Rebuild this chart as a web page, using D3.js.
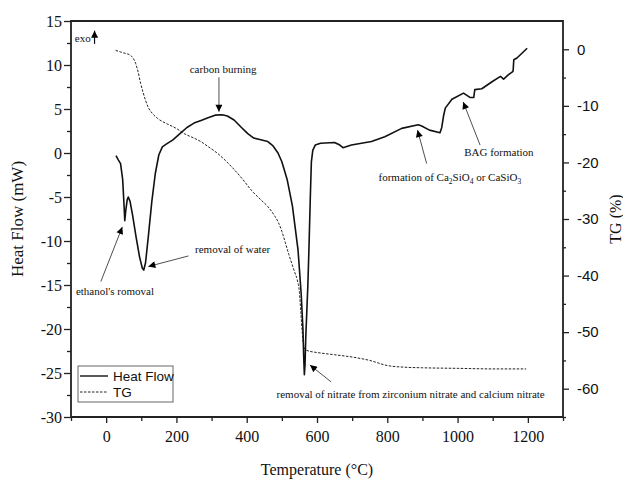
<!DOCTYPE html>
<html><head><meta charset="utf-8">
<script src="https://cdn.jsdelivr.net/npm/d3@7"></script>
<style>body{margin:0;background:#fff}svg{display:block}</style>
</head><body>
<svg id="c" width="623" height="480"></svg>
<script>
// ---- data ----
const hfTemp = [28,35,41,47,51,53,56,60,63,68,75,85,95,103,107,112,120,130,140,150,160,171,190,210,230,250,270,290,310,330,345,364,385,403,420,440,460,475,489,500,515,530,546,555,560,562,564,566,568,571,574,577,581,584,588,595,610,650,665,674,698,755,793,841,888,898,920,950,955,960,965,984,1017,1036,1046,1049,1069,1098,1122,1131,1145,1155,1158,1160,1169,1198];
const heatFlow = [-0.3,-0.8,-1.2,-3,-6,-7.7,-6.5,-5.3,-5.0,-5.5,-7.0,-9.5,-11.8,-13.1,-13.3,-12.5,-9.5,-5.5,-2.3,-0.2,0.7,1.0,1.5,2.2,2.9,3.4,3.7,4.0,4.3,4.35,4.2,3.75,2.9,2.2,1.7,1.5,1.3,0.8,0,-1.0,-3.0,-6,-11,-16,-20,-23,-25.2,-24,-21,-18,-15,-11,-5,-1,0.3,0.9,1.1,1.2,0.9,0.6,0.9,1.3,1.85,2.8,3.2,3.07,2.6,2.3,2.9,4.2,5.1,6.1,6.8,6.3,6.3,7.2,7.3,8.1,8.7,8.4,8.9,9.2,9.3,10.6,10.8,11.9];
const tgTemp = [27,40,50,60,69,76,84,91,98,105,112,120,131,146,174,200,222,250,269,290,317,340,365,390,413,440,460,480,490,500,510,520,529,537,544,550,554,558,562,564,567,570,580,600,650,700,750,800,850,900,1000,1100,1195];
const tgValues = [-0.2,-0.45,-0.65,-0.8,-1.06,-1.5,-2.5,-4.0,-6.0,-7.6,-9.0,-10.3,-11.3,-12.2,-13.2,-14.0,-14.9,-15.7,-16.3,-17.2,-18.4,-19.7,-21.3,-23.1,-24.9,-26.6,-27.8,-29.5,-30.6,-32.2,-34.2,-36.3,-38,-39.5,-40.8,-43,-46.5,-50,-52.3,-52.8,-53.1,-53.2,-53.4,-53.6,-54.0,-54.4,-55.0,-55.9,-56.2,-56.3,-56.4,-56.5,-56.5];
const xTicks = [0,200,400,600,800,1000,1200];
const hfTicks = [15,10,5,0,-5,-10,-15,-20,-25,-30];
const tgTicks = [0,-10,-20,-30,-40,-50,-60];
const seriesNames = ["Heat Flow","TG"];
// annotations in data units (T, heat flow)
const notes = [
  {text:"carbon burning", tx:333, ty:9.1, anchor:"middle", ax1:321, ay1:8.6, ax2:321, ay2:4.7},
  {text:"ethanol's romoval", tx:-86, ty:-16.1, anchor:"start", ax1:-15, ay1:-14.6, ax2:46, ay2:-8.4},
  {text:"removal of water", tx:253, ty:-11.4, anchor:"start", ax1:234, ay1:-11.7, ax2:120, ay2:-12.9},
  {text:"removal of nitrate from zirconium nitrate and calcium nitrate", tx:485, ty:-27.8, anchor:"start", ax1:640, ay1:-26, ax2:580, ay2:-24.1},
  {text:"formation", tx:775, ty:-3.2, anchor:"start", ax1:912, ay1:-1.2, ax2:886, ay2:2.6},
  {text:"BAG formation", tx:1019, ty:-0.3, anchor:"start", ax1:1064, ay1:0.9, ax2:1016, ay2:5.8}
];

const svg = d3.select("#c");
const L=71,R=563,T=21,B=417;
const x = d3.scaleLinear([-100,1300],[L,R]);
const yL = d3.scaleLinear([-30,15],[B,T]);
const yR = d3.scaleLinear([-65,5],[B,T]);
const serif = "'Liberation Serif','Times New Roman',Times,serif";
const sans = "'Liberation Sans',Arial,Helvetica,sans-serif";

const defs = svg.append("defs");
defs.append("marker").attr("id","ah").attr("viewBox","0 0 10 10").attr("refX",10).attr("refY",5)
  .attr("markerWidth",9).attr("markerHeight",7).attr("markerUnits","userSpaceOnUse").attr("orient","auto")
  .append("path").attr("d","M0,0L10,5L0,10Z").attr("fill","#000");

// axes
function styleAxis(g, font, size){
  g.attr("font-family",null).attr("font-size",null);
  g.select(".domain").remove();
  g.selectAll("text").style("font-family",font).style("font-size",size+"px").attr("fill","#111");
  g.selectAll("line").attr("stroke","#222").attr("stroke-width",1.3);
}
const gx = svg.append("g").attr("transform",`translate(0,${B})`)
  .call(d3.axisBottom(x).tickValues(xTicks).tickSize(6).tickPadding(8).tickFormat(d=>String(d)));
styleAxis(gx, serif, 16);
svg.append("g").attr("transform",`translate(0,${B})`)
  .call(d3.axisBottom(x).tickValues(d3.range(-100,1301,200)).tickSize(4).tickFormat(""))
  .call(g=>styleAxis(g,serif,16));
const gl = svg.append("g").attr("transform",`translate(${L},0)`)
  .call(d3.axisLeft(yL).tickValues(hfTicks).tickSize(7).tickPadding(2).tickFormat(d=>String(d)));
styleAxis(gl, serif, 16);
svg.append("g").attr("transform",`translate(${L},0)`)
  .call(d3.axisLeft(yL).tickValues(d3.range(-27.5,15,5)).tickSize(4).tickFormat(""))
  .call(g=>styleAxis(g,serif,16));
const gr = svg.append("g").attr("transform",`translate(${R},0)`)
  .call(d3.axisRight(yR).tickValues(tgTicks).tickSize(6).tickPadding(8).tickFormat(d=>String(d)));
styleAxis(gr, sans, 15);
svg.append("g").attr("transform",`translate(${R},0)`)
  .call(d3.axisRight(yR).tickValues(d3.range(-65,5,10)).tickSize(3).tickFormat(""))
  .call(g=>styleAxis(g,sans,15));

// frame lines
svg.append("path").attr("d",`M${L},${B}V${T}H${R}V${B}H${L}`).attr("fill","none")
  .attr("stroke","#222").attr("stroke-width",1.8);

// lines
const hfData = hfTemp.map((t,i)=>[t,heatFlow[i]]);
const tgData = tgTemp.map((t,i)=>[t,tgValues[i]]);
svg.append("path").datum(tgData).attr("fill","none").attr("stroke","#222").attr("stroke-width",1)
  .attr("stroke-dasharray","2.5,1.5")
  .attr("d", d3.line().x(d=>x(d[0])).y(d=>yR(d[1])).curve(d3.curveMonotoneX));
svg.append("path").datum(hfData).attr("fill","none").attr("stroke","#111").attr("stroke-width",1.6)
  .attr("stroke-linejoin","round")
  .attr("d", d3.line().x(d=>x(d[0])).y(d=>yL(d[1])));

// annotations
const ga = svg.append("g");
notes.forEach(n=>{
  ga.append("line").attr("x1",x(n.ax1)).attr("y1",yL(n.ay1)).attr("x2",x(n.ax2)).attr("y2",yL(n.ay2))
    .attr("stroke","#222").attr("stroke-width",0.8).attr("marker-end","url(#ah)");
  const t = ga.append("text").attr("x",x(n.tx)).attr("y",yL(n.ty)).attr("text-anchor",n.anchor)
    .style("font-family",serif).style("font-size","11px").attr("fill","#111");
  if(n.text==="formation"){
    t.append("tspan").text("formation of Ca");
    t.append("tspan").attr("dy",2.5).style("font-size","7.5px").text("2");
    t.append("tspan").attr("dy",-2.5).text("SiO");
    t.append("tspan").attr("dy",2.5).style("font-size","7.5px").text("4");
    t.append("tspan").attr("dy",-2.5).text(" or CaSiO");
    t.append("tspan").attr("dy",2.5).style("font-size","7.5px").text("3");
  } else t.text(n.text);
});
// exo
ga.append("text").attr("x",x(-89)).attr("y",yL(12.6)).style("font-family",serif).style("font-size","11px").attr("fill","#111").text("exo");
ga.append("line").attr("x1",x(-33)).attr("y1",yL(12.4)).attr("x2",x(-33)).attr("y2",yL(13.9))
  .attr("stroke","#111").attr("stroke-width",1.2).attr("marker-end","url(#ah)");

// titles
svg.append("text").attr("x",(L+R)/2).attr("y",475).attr("text-anchor","middle")
  .style("font-family",serif).style("font-size","16px").attr("fill","#111").text("Temperature (°C)");
svg.append("text").attr("transform",`translate(23,${(T+B)/2}) rotate(-90)`).attr("text-anchor","middle")
  .style("font-family",serif).style("font-size","17px").attr("fill","#111").text("Heat Flow (mW)");
svg.append("text").attr("transform",`translate(621,${(T+B)/2}) rotate(-90)`).attr("text-anchor","middle")
  .style("font-family",serif).style("font-size","16px").attr("fill","#111").text("TG (%)");

// legend
const lg = svg.append("g");
lg.append("rect").attr("x",78).attr("y",366).attr("width",95).attr("height",36)
  .attr("fill","#fff").attr("stroke","#666").attr("stroke-width",1);
seriesNames.forEach((s,i)=>{
  const yy = 376 + i*16;
  lg.append("line").attr("x1",80).attr("x2",108).attr("y1",yy).attr("y2",yy)
    .attr("stroke","#222").attr("stroke-width",i?1:1.5).attr("stroke-dasharray",i?"2.5,1.5":null);
  lg.append("text").attr("x",113).attr("y",yy+5).style("font-family",sans).style("font-size","13.5px")
    .attr("fill","#111").text(s);
});
</script>
</body></html>
